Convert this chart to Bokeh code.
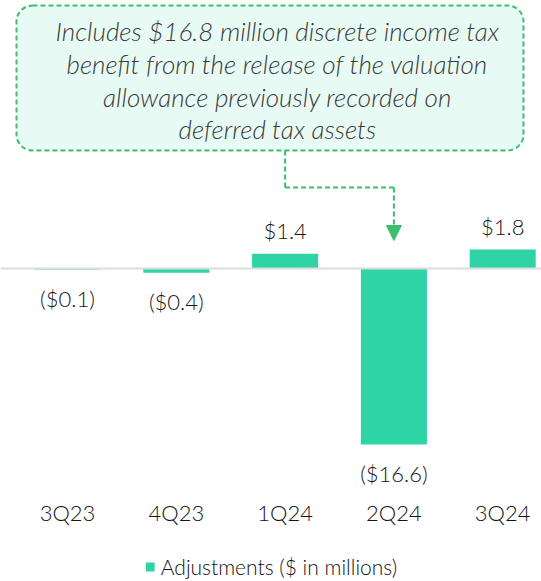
from bokeh.plotting import figure
from bokeh.models import (ColumnDataSource, Range1d, Span, BoxAnnotation, Arrow,
                          NormalHead, Legend, LegendItem)
from bokeh.core.properties import value
from bokeh.embed import file_html
from bokeh.resources import INLINE

# ---- data ----
categories = ["3Q23", "4Q23", "1Q24", "2Q24", "3Q24"]
adjustments = [-0.1, -0.4, 1.4, -16.6, 1.8]
series_name = "Adjustments ($ in millions)"
note_lines = [
    "Includes $16.8 million discrete income tax",
    "benefit from the release of the valuation",
    "allowance previously recorded on",
    "deferred tax assets",
]
note_from = "1Q24"
note_to = "2Q24"

FONT = "Lato Light"
BAR = "#2ed3a6"
GREEN = "#3cbf6c"
INK = "#141414"

def fmt(v):
    return f"${v:.1f}" if v >= 0 else f"(${abs(v):.1f})"

xs = list(range(len(categories)))
src = ColumnDataSource(dict(
    x=xs,
    top=adjustments,
    label=[fmt(v) for v in adjustments],
    yoff=[-23 if v >= 0 else 29 for v in adjustments],
))

W, H = 541, 581
px_x = 108.8
px_y = 10.6
zero_px = 268
x0 = -67 / px_x
p = figure(width=W, height=H, output_backend="svg", toolbar_location=None,
           x_range=Range1d(x0, x0 + W / px_x),
           y_range=Range1d(-(H - zero_px) / px_y, zero_px / px_y),
           min_border=0, outline_line_color=None)
p.axis.visible = False
p.grid.visible = False
p.background_fill_color = "white"

p.add_layout(Span(location=0, dimension="width", line_color="#dcdcdc", line_width=2))

r = p.vbar(x="x", top="top", bottom=0, width=66 / px_x, source=src,
           fill_color=BAR, line_color=None)

p.text(x="x", y="top", text="label", y_offset="yoff", source=src,
       text_align="center", text_baseline="middle", text_font=value(FONT),
       text_font_size="22px", text_color=INK)

cat_y = -(512 - zero_px) / px_y
p.text(x=xs, y=[cat_y] * len(xs), text=categories, text_align="center",
       text_baseline="middle", text_font=value(FONT), text_font_size="22px",
       text_color=INK)

# annotation box
def dx(fx):
    return x0 + fx / px_x

def dy(fy):
    return (zero_px - fy) / px_y

box = BoxAnnotation(left=dx(16), right=dx(523), top=dy(5), bottom=dy(150),
                    fill_color="#e8faf4", fill_alpha=1, line_color=GREEN,
                    line_alpha=1, line_width=2, line_dash="5 3", border_radius=16,
                    level="underlay")
p.add_layout(box)

note_y = [dy(f) for f in (30, 63, 96, 128)]
p.text(x=[dx(277)] * len(note_lines), y=note_y, text=note_lines,
       text_align="center", text_baseline="middle", text_font=value(FONT),
       text_font_style="italic", text_font_size="26px", text_color="#3a3a3a")

i_from = categories.index(note_from)
i_to = categories.index(note_to)
y_mid = dy(187)
p.segment(x0=[i_from, i_from], y0=[dy(150), y_mid], x1=[i_from, i_to], y1=[y_mid, y_mid],
          line_color=GREEN, line_width=2, line_dash="5 3")
p.add_layout(Arrow(x_start=i_to, y_start=y_mid, x_end=i_to, y_end=dy(240),
                   line_color=GREEN, line_width=2, line_dash="5 3",
                   end=NormalHead(size=15, fill_color=GREEN, line_color=GREEN)))

legend = Legend(items=[LegendItem(label=series_name, renderers=[r])],
                location="bottom_center", orientation="horizontal",
                border_line_alpha=0, background_fill_alpha=0,
                label_text_font=FONT, label_text_font_size="21px",
                label_text_color=INK, glyph_width=11, glyph_height=11,
                label_standoff=6, padding=0, margin=2)
p.add_layout(legend)

open("out.html", "w").write(file_html(p, INLINE))
